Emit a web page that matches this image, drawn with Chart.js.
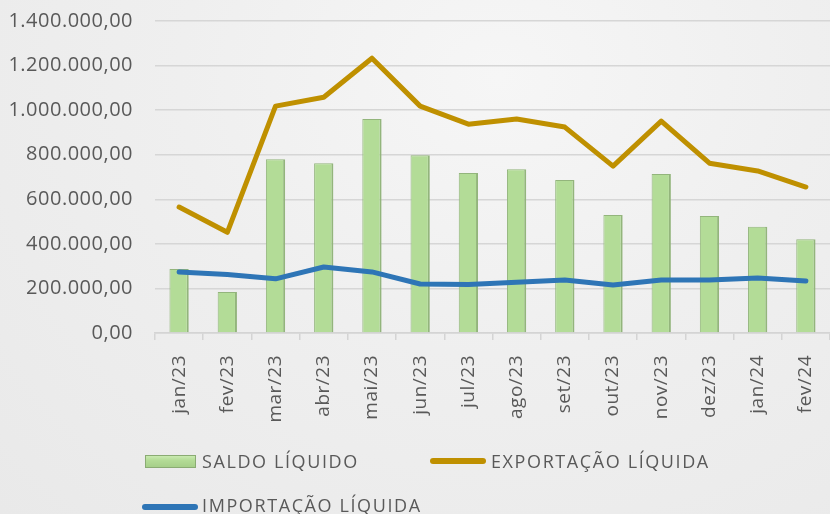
<!DOCTYPE html>
<html>
<head>
<meta charset="utf-8">
<script src="https://cdn.jsdelivr.net/npm/chart.js@4/dist/chart.umd.min.js"></script>
<style>
  html, body { margin: 0; padding: 0; }
  body {
    width: 830px; height: 514px; overflow: hidden;
    background: radial-gradient(ellipse at 60% 15%, #f6f6f6 0%, #efefef 45%, #e9e9e9 100%);
    font-family: "Open Sans", sans-serif;
  }
  #wrap { position: relative; width: 830px; height: 514px; }
  #myChart { position: absolute; left: 0; top: 0; }
  .leg { position: absolute; color: #595959; font-size: 18px; letter-spacing: 1.6px; line-height: 20px; white-space: nowrap; }
  .sw { position: absolute; box-sizing: border-box; }
</style>
</head>
<body>
<div id="wrap">
  <canvas id="myChart" width="830" height="514"></canvas>
</div>
<script>
const categorias = ['jan/23', 'fev/23', 'mar/23', 'abr/23', 'mai/23', 'jun/23', 'jul/23', 'ago/23', 'set/23', 'out/23', 'nov/23', 'dez/23', 'jan/24', 'fev/24'];
const saldo = [287000, 184000, 780000, 762000, 960000, 798000, 718000, 735000, 686000, 529000, 713000, 525000, 477000, 421000];
const exportacao = [565000, 452000, 1018000, 1058000, 1233000, 1018000, 937000, 960000, 924000, 749000, 951000, 762000, 727000, 655000];
const importacao = [274000, 262000, 243000, 296000, 274000, 220000, 218000, 228000, 238000, 215000, 238000, 238000, 247000, 233000];
const ticksY = [0, 200000, 400000, 600000, 800000, 1000000, 1200000, 1400000];

function formata(v) {
    const inteiro = Math.round(v).toString().replace(/\B(?=(\d{3})+(?!\d))/g, '.');
    return inteiro + ',00';
}

const ctx = document.getElementById('myChart').getContext('2d');

const data = {
    labels: categorias,
    datasets: [{
        type: 'bar',
        label: 'SALDO LÍQUIDO',
        data: saldo,
        backgroundColor: '#b3dc97',
        borderColor: '#93b57c',
        borderWidth: { left: 1, right: 2, top: 1, bottom: 0 },
        borderSkipped: false,
        barPercentage: 0.4,
        categoryPercentage: 1,
        order: 3
    }, {
        type: 'line',
        label: 'EXPORTAÇÃO LÍQUIDA',
        data: exportacao,
        borderColor: '#bf9000',
        backgroundColor: '#bf9000',
        borderWidth: 5,
        pointRadius: 0,
        tension: 0,
        borderCapStyle: 'round',
        borderJoinStyle: 'round',
        order: 2
    }, {
        type: 'line',
        label: 'IMPORTAÇÃO LÍQUIDA',
        data: importacao,
        borderColor: '#2e75b6',
        backgroundColor: '#2e75b6',
        borderWidth: 5,
        pointRadius: 0,
        tension: 0,
        borderCapStyle: 'round',
        borderJoinStyle: 'round',
        order: 1
    }]
};

// espaçamento entre letras nos textos do canvas
const espacamento = {
    id: 'espacamento',
    beforeDraw: (c) => { c.ctx.letterSpacing = '0.5px'; }
};

const chart = new Chart(ctx, {
    data: data,
    plugins: [espacamento],
    options: {
        responsive: false,
        animation: false,
        layout: { padding: { top: 21, right: 0, bottom: 0, left: 0 } },
        plugins: {
            legend: { display: false },
            tooltip: { enabled: false }
        },
        scales: {
            x: {
                offset: true,
                grid: { display: true, drawOnChartArea: false, drawTicks: true, tickLength: 7, color: '#d4d4d4', lineWidth: 1.5, offset: true },
                border: { display: true, color: '#d4d4d4', width: 1.5 },
                ticks: { color: '#595959', font: { family: 'Open Sans', size: 19 }, minRotation: 90, maxRotation: 90, padding: 15, autoSkip: false },
                afterFit: (s) => { s.height = 181; s.paddingLeft = 0; s.paddingRight = 0; }
            },
            y: {
                min: 0,
                max: 1400000,
                afterBuildTicks: (s) => { s.ticks = ticksY.map(v => ({ value: v })); },
                grid: { color: '#d6d6d6', lineWidth: 1.5, drawTicks: false },
                border: { display: false },
                ticks: { color: '#595959', font: { family: 'Open Sans', size: 20 }, padding: 22, callback: (v) => formata(v) },
                afterFit: (s) => { s.width = 155; s.paddingTop = 0; s.paddingBottom = 0; }
            }
        }
    }
});

// legenda (posições iguais à referência)
const posLegenda = [
    { sx: 145, sy: 455, sw: 51, sh: 13, tx: 202, ty: 451, bar: true },
    { sx: 430, sy: 458, sw: 56, sh: 6, tx: 491, ty: 451 },
    { sx: 142, sy: 504, sw: 56, sh: 6, tx: 202, ty: 495 }
];
const wrap = document.getElementById('wrap');
chart.data.datasets.forEach((ds, i) => {
    const p = posLegenda[i];
    const sw = document.createElement('div');
    sw.className = 'sw';
    sw.style.left = p.sx + 'px';
    sw.style.top = p.sy + 'px';
    sw.style.width = p.sw + 'px';
    sw.style.height = p.sh + 'px';
    if (p.bar) {
        sw.style.background = 'linear-gradient(#c9eab0, #b3db96 40%, #a6cf89)';
        sw.style.border = '1px solid #8aab73';
    } else {
        sw.style.background = ds.borderColor;
        sw.style.borderRadius = '3px';
    }
    wrap.appendChild(sw);
    const t = document.createElement('div');
    t.className = 'leg';
    t.style.left = p.tx + 'px';
    t.style.top = p.ty + 'px';
    t.textContent = ds.label;
    wrap.appendChild(t);
});
</script>
</body>
</html>
